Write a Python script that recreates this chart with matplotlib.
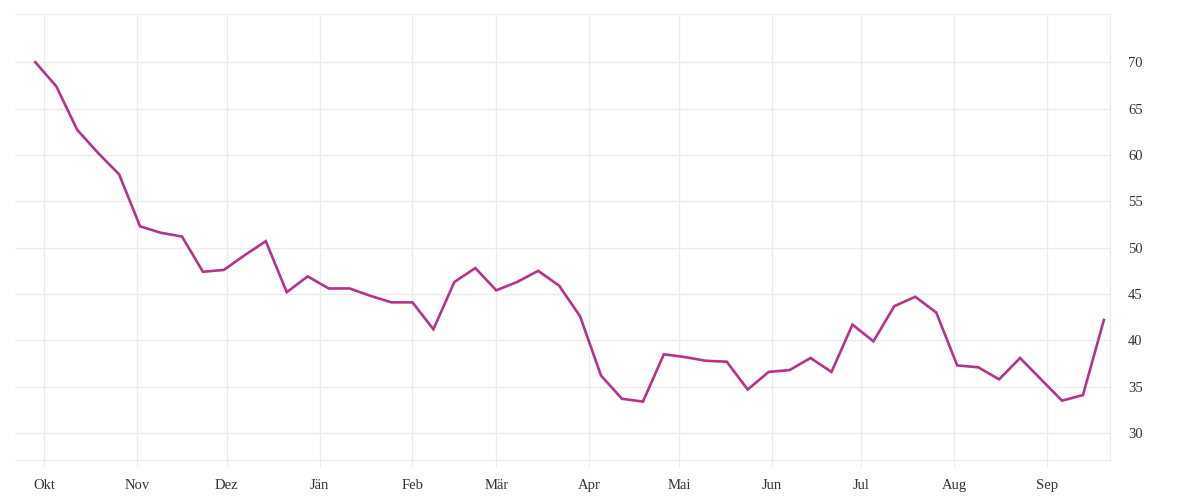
import numpy as np
import pandas as pd
import matplotlib
matplotlib.use('Agg')
import matplotlib.pyplot as plt
import matplotlib.dates as mdates

# datos semanales
fechas = pd.date_range('2018-09-28', periods=52, freq='7D')
valores = [70.0, 67.4, 62.7, 60.2, 57.9, 52.3, 51.6, 51.2, 47.4, 47.6,
           49.2, 50.7, 45.2, 46.9, 45.6, 45.6, 44.8, 44.1, 44.1, 41.2,
           46.3, 47.8, 45.4, 46.3, 47.5, 45.9, 42.6, 36.2, 33.7, 33.4,
           38.5, 38.2, 37.8, 37.7, 34.7, 36.6, 36.8, 38.1, 36.6, 41.7,
           39.9, 43.7, 44.7, 43.0, 37.3, 37.1, 35.8, 38.1, 35.8, 33.5,
           34.1, 42.2]

meses = pd.date_range('2018-10-01', periods=12, freq='MS')
etiquetas_meses = ['Okt', 'Nov', 'Dez', 'Jän', 'Feb', 'Mär', 'Apr', 'Mai',
                   'Jun', 'Jul', 'Aug', 'Sep']
yticks = [30, 35, 40, 45, 50, 55, 60, 65, 70]

plt.rcParams['font.family'] = ['Liberation Serif', 'DejaVu Serif']
gris = '#ebebeb'

fig = plt.figure(figsize=(12, 5), dpi=100)
ax = fig.add_axes([0.0125, 0.08, 0.9125, 0.892])

ax.plot(fechas, valores, color='#b5338a', linewidth=1.9, solid_joinstyle='miter')

ax.set_xlim(pd.Timestamp('2018-09-21 05:00'), pd.Timestamp('2019-09-22 01:00'))
ax.set_ylim(27.1, 75.2)

ax.set_xticks(meses)
ax.set_xticklabels(etiquetas_meses)
ax.set_yticks(yticks)

ax.yaxis.tick_right()
ax.grid(True, color=gris, linewidth=1)
ax.set_axisbelow(True)

ax.tick_params(axis='x', length=5, color=gris, pad=9, labelsize=10.5, labelcolor='#333333')
ax.tick_params(axis='y', length=0, pad=13, labelsize=10.5, labelcolor='#333333')

for lado in ['top', 'bottom', 'right']:
    ax.spines[lado].set_color(gris)
ax.spines['left'].set_visible(False)

fig.savefig('out.png', dpi=100)
